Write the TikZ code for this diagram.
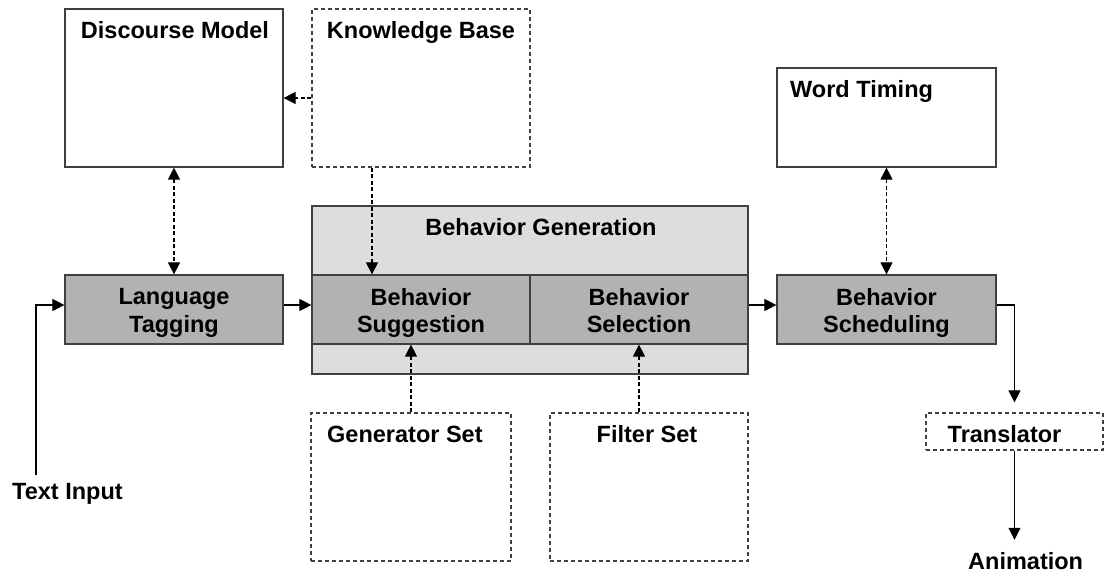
\documentclass[tikz,border=0pt]{standalone}
\usepackage{fontspec}
\setmainfont{Liberation Sans}
\usetikzlibrary{arrows.meta}
\newcommand\lstrut{\rule[-4pt]{0pt}{27pt}}
\begin{document}
\begin{tikzpicture}[x=1pt,y=-1pt,
 font=\fontsize{23.5}{27}\selectfont\bfseries,
 box/.style={draw=black!75, line width=1.2pt, rectangle, inner sep=0pt},
 whitebox/.style={box, fill=white},
 dbox/.style={box, dash pattern=on 4pt off 3pt, fill=white},
 dark/.style={box, fill=gray!60, align=center},
 light/.style={box, fill=gray!27},
 lbl/.style={inner sep=0pt},
 tip/.style={-{Triangle[length=12pt,width=12pt]}},
 dtip/.style={{Triangle[length=12pt,width=12pt]}-{Triangle[length=12pt,width=12pt]}},
 conn/.style={line width=1.1pt, black},
 dconn/.style={conn, dash pattern=on 4pt off 2.5pt},
]
\useasboundingbox (0,0) rectangle (1104,572);
% boxes
\node[whitebox, minimum width=218pt, minimum height=158pt] (dm) at (174,88) {};
\node[dbox, minimum width=218pt, minimum height=158pt] (kb) at (421,88) {};
\node[whitebox, minimum width=219pt, minimum height=99pt] (wt) at (886.5,117.5) {};
\node[light, minimum width=436pt, minimum height=168pt] (bg) at (530,290) {};
\node[dark, minimum width=218pt, minimum height=69pt] (bsug) at (421,309.5) {\lstrut Behavior\\\lstrut Suggestion};
\node[dark, minimum width=218pt, minimum height=69pt] (bsel) at (639,309.5) {\lstrut Behavior\\\lstrut Selection};
\node[dark, minimum width=218pt, minimum height=69pt] (lt) at (174,309.5) {\lstrut Language\\\lstrut Tagging};
\node[dark, minimum width=219pt, minimum height=69pt] (bsch) at (886.5,309.5) {\lstrut Behavior\\\lstrut Scheduling};
\node[dbox, minimum width=200pt, minimum height=148pt] (gs) at (411,487) {};
\node[dbox, minimum width=198pt, minimum height=148pt] (fs) at (649,487) {};
\node[dbox, minimum width=177pt, minimum height=37pt] (tr) at (1014.5,431.5) {};
% labels
\node[lbl, anchor=base] (dmt) at (175,38.5) {Discourse Model};
\node[lbl, anchor=base] (kbt) at (421,38.5) {Knowledge Base};
\node[lbl, anchor=base west] (wtt) at (790,97.5) {Word Timing};
\node[lbl, anchor=base] (bgt) at (541,235.5) {Behavior Generation};
\node[lbl, anchor=base west] (gst) at (327,442.5) {Generator Set};
\node[lbl, anchor=base] (fst) at (647,442.5) {Filter Set};
\node[lbl, anchor=base west] (trt) at (947.5,442.5) {Translator};
\node[lbl, anchor=base west] (ti) at (12,499.5) {Text Input};
\node[lbl, anchor=base west] (anim) at (968,569) {Animation};
\coordinate (tiin) at (36,475);
% connectors
\draw[conn,tip] (tiin) |- ([yshift=4.5pt]lt.west);
\draw[conn,tip] ([yshift=4.5pt]lt.east) -- ([yshift=4.5pt]bsug.west);
\draw[conn,tip] ([yshift=4.5pt]bsel.east) -- ([yshift=4.5pt]bsch.west);
\draw[conn,tip,shorten >=10pt] ([yshift=4.5pt]bsch.east) -| (tr.north);
\draw[conn,tip,shorten >=12pt] (tr.south) -- (tr.south |- anim.north);
\draw[dconn,dtip] (dm.south) -- (lt.north);
\draw[dconn,dtip] (wt.south) -- (bsch.north);
\draw[dconn,tip] ([yshift=-10pt]kb.west) -- ([yshift=-10pt]dm.east);
\draw[dconn,tip] ([xshift=-49pt]kb.south) -- ([xshift=-49pt]bsug.north);
\draw[dconn,tip] (gs.north) -- (gs.north |- bsug.south);
\draw[dconn,tip] (bsel.south |- fs.north) -- (bsel.south);
\end{tikzpicture}
\end{document}
